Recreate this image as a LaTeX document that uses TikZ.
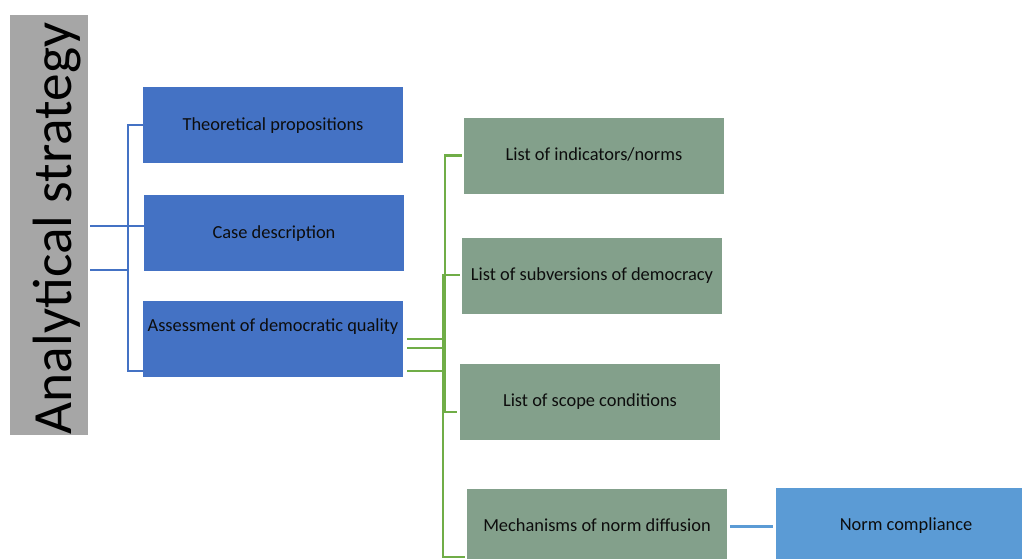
\documentclass[tikz,border=0pt]{standalone}
\usepackage{fontspec}
\setmainfont{Carlito}
\definecolor{bbox}{HTML}{4472C4}
\definecolor{gbox}{HTML}{83A08B}
\definecolor{nbox}{HTML}{5B9BD5}
\definecolor{graybg}{HTML}{A6A6A6}
\definecolor{gline}{HTML}{70AD47}
\definecolor{txt}{HTML}{0D0D0D}
\begin{document}
\begin{tikzpicture}[x=0.75pt,y=-0.75pt,
  box/.style={draw=none,minimum width=195pt,minimum height=57pt,inner sep=0pt,
    text=txt,font=\fontsize{13.8}{16}\selectfont,text depth=2pt},
  bluebox/.style={box,fill=bbox},
  greenbox/.style={box,fill=gbox},
  normbox/.style={box,fill=nbox},
  bluecon/.style={draw=bbox,line width=1.7pt},
  greencon/.style={draw=gline,line width=1.7pt},
  normcon/.style={draw=nbox,line width=1.7pt}]
\clip (0,0) rectangle (1022,558);
\useasboundingbox (0,0) rectangle (1022,558);
\fill[white] (0,0) rectangle (1022,558);
% title
\node[fill=graybg,minimum width=58.5pt,minimum height=315pt,inner sep=0pt] (gray) at (49,225) {};
\node[rotate=90,font=\fontsize{41.5}{44}\selectfont,text=black,inner sep=0pt] (title) at (57,228.5) {Analytical strategy};
% blue boxes
\node[bluebox] (TP) at (273,125) {Theoretical propositions};
\node[bluebox] (CD) at (274,233) {Case description};
\node[bluebox] (AS) at (273,339) {};
\node[text=txt,font=\fontsize{13.8}{16}\selectfont,inner sep=0pt] (AST) at (273,326.5) {Assessment of democratic quality};
% green boxes
\node[greenbox] (IN) at (594,155.5) {List of indicators/norms};
\node[greenbox] (SU) at (592,275.5) {List of subversions of democracy};
\node[greenbox] (SC) at (590,401.5) {List of scope conditions};
\node[greenbox] (ME) at (597,526.5) {Mechanisms of norm diffusion};
\node[normbox] (NC) at (906,525.5) {Norm compliance};
% blue bracket
\coordinate (bv) at (128,226);
\coordinate (bw) at (128,270);
\coordinate (bt) at (128,125);
\coordinate (bb) at (128,371);
\draw[bluecon] ([xshift=1.5pt]gray.east |- bv) -- (bv);
\draw[bluecon] ([xshift=1.5pt]gray.east |- bw) -- (bw);
\draw[bluecon] (TP.west |- bt) -- (bt) -- (bb) -- (AS.west |- bb);
\draw[bluecon] (bv) -- (CD.west |- bv);
% green tree
\coordinate (ga) at (407,339);
\coordinate (gb) at (407,348);
\coordinate (gc) at (407,371);
\coordinate (ja) at (445,339);
\coordinate (jb) at (443,348);
\coordinate (gs) at (0,275);
\coordinate (gd) at (0,412);
\coordinate (ge) at (0,557);
\draw[greencon] (ga) -- (ja) |- ([xshift=-1.5pt]IN.west);
\draw[greencon] (ja) |- ([xshift=-2pt]SC.west |- gd);
\draw[greencon] (gb) -- (jb) |- ([xshift=-1.5pt]SU.west |- gs);
\draw[greencon] (gc) -- (jb |- gc);
\draw[greencon] (jb) |- ([xshift=-1.5pt]ME.west |- ge);
% norm connector
\draw[normcon,shorten <=2pt,shorten >=2pt] (ME.east) -- (NC.west |- ME.east);
\end{tikzpicture}
\end{document}
